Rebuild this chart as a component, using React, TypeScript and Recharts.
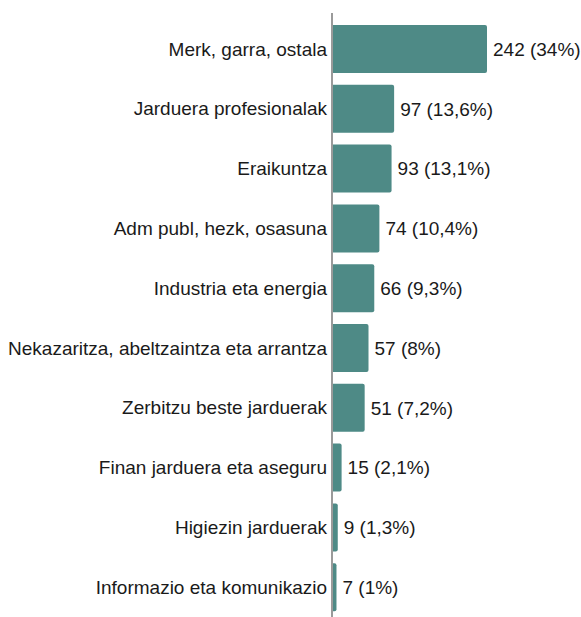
import { BarChart, Bar, XAxis, YAxis, LabelList } from 'recharts'

const sectors = [
  'Merk, garra, ostala',
  'Jarduera profesionalak',
  'Eraikuntza',
  'Adm publ, hezk, osasuna',
  'Industria eta energia',
  'Nekazaritza, abeltzaintza eta arrantza',
  'Zerbitzu beste jarduerak',
  'Finan jarduera eta aseguru',
  'Higiezin jarduerak',
  'Informazio eta komunikazio',
]
const counts = [242, 97, 93, 74, 66, 57, 51, 15, 9, 7]
const shares = [34, 13.6, 13.1, 10.4, 9.3, 8, 7.2, 2.1, 1.3, 1]

const data = sectors.map((name, i) => ({
  name,
  value: counts[i],
  label: `${counts[i]} (${String(shares[i]).replace('.', ',')}%)`,
}))

export default function App() {
  return (
    <div style={{ position: 'absolute', left: 0, top: 0, background: '#fff' }}>
      <BarChart
        width={581}
        height={617}
        data={data}
        layout="vertical"
        margin={{ top: 13, right: 94, left: 0, bottom: 0 }}
        style={{ fontFamily: 'Liberation Sans, Arial, sans-serif' }}
      >
        <XAxis type="number" domain={[0, 'dataMax']} hide />
        <YAxis
          type="category"
          dataKey="name"
          width={332}
          padding={{ top: 6, bottom: 0 }}
          tickLine={false}
          tickSize={0}
          tickMargin={5}
          axisLine={{ stroke: '#9a9a9a', strokeWidth: 2 }}
          tick={{ fill: '#1a1a1a', fontSize: 19 }}
          interval={0}
        />
        <Bar dataKey="value" fill="#4e8a86" barSize={48} radius={[0, 2, 2, 0]} isAnimationActive={false}>
          <LabelList dataKey="label" position="right" offset={6} fill="#1a1a1a" fontSize={19} />
        </Bar>
      </BarChart>
    </div>
  )
}
